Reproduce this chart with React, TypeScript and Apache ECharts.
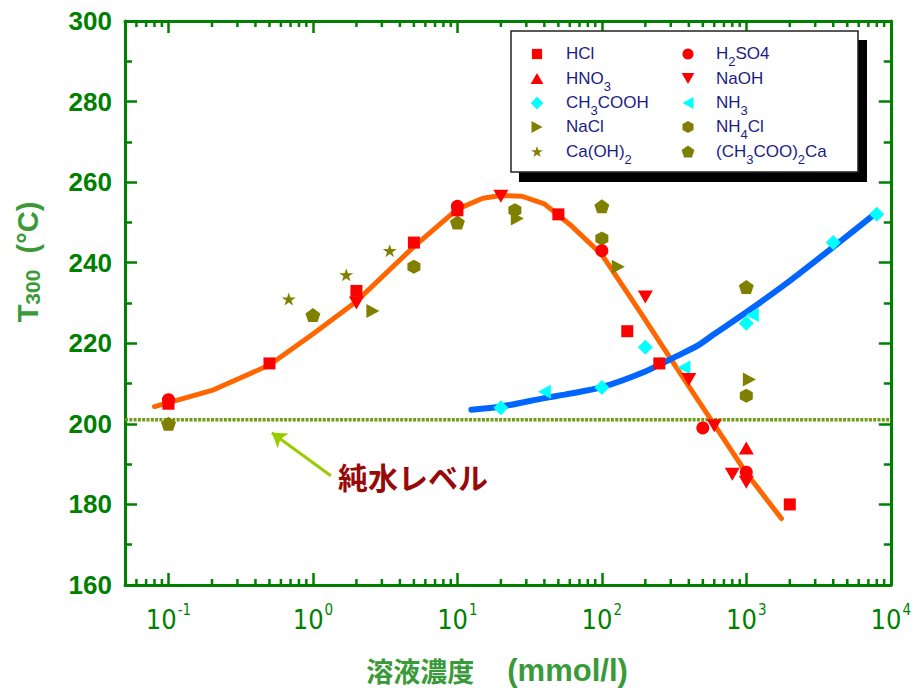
import React, { useEffect, useRef } from "react";
import * as echarts from "echarts";

// ---------- axis ranges ----------
const X_MIN = 0.05;
const X_MAX = 10000;
const Y_MIN = 160;
const Y_MAX = 300;
const Y_INTERVAL = 20;
const PURE_WATER_LEVEL = 201;

// minor log ticks: mantissas x decades
const minorMantissas = [2, 3, 4, 5, 6, 7, 8, 9];
const decadeStarts = [0.01, 0.1, 1, 10, 100, 1000];

// ---------- measured points ----------
const hclX = [0.1, 0.5, 2, 5, 10, 50, 150, 250, 2000];
const hclY = [205, 215, 233, 245, 253, 252, 223, 215, 180];
const h2so4X = [0.1, 10, 100, 500, 1000];
const h2so4Y = [206, 254, 243, 199, 188];
const hno3X = [1000];
const hno3Y = [194];
const naohX = [2, 20, 200, 400, 600, 800, 1000];
const naohY = [230, 256.5, 231.5, 211, 199.5, 187.5, 185.5];
const ch3coohX = [20, 100, 200, 1000, 4000, 8000];
const ch3coohY = [204, 209, 219, 225, 245, 252];
const nh3X = [40, 370, 1100];
const nh3Y = [208, 214, 227];
const naclX = [2.6, 26, 130, 1050];
const naclY = [228, 251, 239, 211];
const nh4clX = [5, 25, 100, 1000];
const nh4clY = [239, 253, 246, 207];
const caoh2X = [0.68, 1.7, 3.4];
const caoh2Y = [231, 237, 243];
const caacX = [0.1, 1, 10, 100, 1000];
const caacY = [200, 227, 250, 254, 234];

// ---------- fitted curves ----------
const strongFitX = [0.08, 0.2, 0.5, 1, 2, 5, 10, 15, 20, 28, 40, 60, 100, 180, 320, 600, 1000, 1750];
const strongFitY = [204.3, 208.3, 214.6, 222.3, 230.4, 244, 253.3, 256, 256.7, 256.5, 254.6, 249.5, 242, 228.3, 214.6, 199.8, 187.8, 176.5];
const weakFitX = [12.5, 20, 40, 60, 100, 200, 330, 460, 600, 1000, 2000, 4000, 8000];
const weakFitY = [203.5, 204.3, 206.4, 207.5, 209.1, 213, 216.8, 219.4, 222.3, 227.7, 235.5, 243.9, 252.5];

// ---------- annotation ----------
const arrowFrom = [1.33, 187.1];
const arrowTo = [0.52, 197.8];
const annotationText = "純水レベル";

// ---------- legend texts ----------
const legendCol1 = ["HCl", "HNO3", "CH3COOH", "NaCl", "Ca(OH)2"];
const legendCol2 = ["H2SO4", "NaOH", "NH3", "NH4Cl", "(CH3COO)2Ca"];
const legendRich: Record<string, string> = {
  HCl: "{n|HCl}",
  H2SO4: "{n|H}{s|2}{n|SO4}",
  HNO3: "{n|HNO}{s|3}",
  NaOH: "{n|NaOH}",
  CH3COOH: "{n|CH}{s|3}{n|COOH}",
  NH3: "{n|NH}{s|3}",
  NaCl: "{n|NaCl}",
  NH4Cl: "{n|NH}{s|4}{n|Cl}",
  "Ca(OH)2": "{n|Ca(OH)}{s|2}",
  "(CH3COO)2Ca": "{n|(CH}{s|3}{n|COO)}{s|2}{n|Ca}",
};

// ---------- styling ----------
const AXIS_GREEN = "#008000";
const NAME_GREEN = "#3a9a3a";
const RED = "#ff0000";
const CYAN = "#00ffff";
const OLIVE = "#808000";
const LEGEND_TEXT = "#1c1c84";

function normPoly(raw: number[][]): number[][] {
  const xs = raw.map((p) => p[0]);
  const ys = raw.map((p) => p[1]);
  const x0 = Math.min(...xs), x1 = Math.max(...xs);
  const y0 = Math.min(...ys), y1 = Math.max(...ys);
  return raw.map((p) => [(p[0] - x0) / (x1 - x0), (p[1] - y0) / (y1 - y0)]);
}
function radial(n: number, rOuter: number, rInner: number | null): number[][] {
  const pts: number[][] = [];
  const count = rInner == null ? n : n * 2;
  for (let i = 0; i < count; i++) {
    const r = rInner == null ? rOuter : i % 2 === 0 ? rOuter : rInner;
    const a = -Math.PI / 2 + (i * 2 * Math.PI) / count;
    pts.push([r * Math.cos(a), r * Math.sin(a)]);
  }
  return normPoly(pts);
}
const SHAPES: Record<string, number[][]> = {
  up: [[0.5, 0], [1, 1], [0, 1]],
  down: [[0, 0], [1, 0], [0.5, 1]],
  left: [[1, 0], [1, 1], [0, 0.5]],
  right: [[0, 0], [1, 0.5], [0, 1]],
  diamond: [[0.5, 0], [1, 0.5], [0.5, 1], [0, 0.5]],
  hexagon: [[0.5, 0], [1, 0.25], [1, 0.75], [0.5, 1], [0, 0.75], [0, 0.25]],
  pentagon: radial(5, 1, null),
  star: radial(5, 1, 0.382),
};
function symbolOf(shape: string): string {
  if (shape === "circle") return "circle";
  if (shape === "square") return "rect";
  const pts = SHAPES[shape];
  return "path://" + pts.map((p, i) => (i ? "L" : "M") + (p[0] * 100).toFixed(2) + "," + (p[1] * 100).toFixed(2)).join("") + "Z";
}

type Species = { name: string; xs: number[]; ys: number[]; color: string; shape: string; size: [number, number] };
const species: Species[] = [
  { name: "Ca(OH)2", xs: caoh2X, ys: caoh2Y, color: OLIVE, shape: "star", size: [14, 13] },
  { name: "(CH3COO)2Ca", xs: caacX, ys: caacY, color: OLIVE, shape: "pentagon", size: [15, 14] },
  { name: "NaCl", xs: naclX, ys: naclY, color: OLIVE, shape: "right", size: [13, 14] },
  { name: "NH4Cl", xs: nh4clX, ys: nh4clY, color: OLIVE, shape: "hexagon", size: [13, 14] },
  { name: "NH3", xs: nh3X, ys: nh3Y, color: CYAN, shape: "left", size: [13, 14] },
  { name: "CH3COOH", xs: ch3coohX, ys: ch3coohY, color: CYAN, shape: "diamond", size: [15, 15] },
  { name: "H2SO4", xs: h2so4X, ys: h2so4Y, color: RED, shape: "circle", size: [13, 13] },
  { name: "HCl", xs: hclX, ys: hclY, color: RED, shape: "square", size: [12, 12] },
  { name: "HNO3", xs: hno3X, ys: hno3Y, color: RED, shape: "up", size: [15, 13] },
  { name: "NaOH", xs: naohX, ys: naohY, color: RED, shape: "down", size: [15, 13] },
];

const zip = (xs: number[], ys: number[]) => xs.map((x, i) => [x, ys[i]]);

function legendSymbol(sp: Species, cx: number, cy: number): any {
  const k = 0.85;
  const w = sp.size[0] * k, h = sp.size[1] * k;
  if (sp.shape === "circle") return { type: "circle", shape: { cx, cy, r: w / 2 }, style: { fill: sp.color } };
  if (sp.shape === "square") return { type: "rect", shape: { x: cx - w / 2, y: cy - h / 2, width: w, height: h }, style: { fill: sp.color } };
  const pts = SHAPES[sp.shape].map((p) => [cx - w / 2 + p[0] * w, cy - h / 2 + p[1] * h]);
  return { type: "polygon", shape: { points: pts }, style: { fill: sp.color } };
}

function buildOption(): any {
  const minorTicks: number[] = [];
  decadeStarts.forEach((d) => minorMantissas.forEach((m) => {
    const v = d * m;
    if (v > X_MIN * 1.0001 && v < X_MAX) minorTicks.push(v);
  }));

  const commonX = {
    type: "log",
    logBase: 10,
    min: X_MIN,
    max: X_MAX,
    splitLine: { show: false },
    axisLine: { onZero: false, lineStyle: { color: AXIS_GREEN, width: 3 } },
    axisTick: { inside: true, length: 12, lineStyle: { color: AXIS_GREEN, width: 2.5 } },
  };
  const commonY = {
    type: "value",
    min: Y_MIN,
    max: Y_MAX,
    interval: Y_INTERVAL,
    splitLine: { show: false },
    axisLine: { onZero: false, lineStyle: { color: AXIS_GREEN, width: 3 } },
    axisTick: { inside: true, length: 12, lineStyle: { color: AXIS_GREEN, width: 2.5 } },
    minorTick: { show: true, splitNumber: 2, length: 7, lineStyle: { color: AXIS_GREEN, width: 2.5 } },
  };

  const legendGraphics: any[] = [
    { type: "rect", shape: { x: 519, y: 40, width: 348, height: 142 }, style: { fill: "#000" }, z: 100 },
    { type: "rect", shape: { x: 511, y: 31, width: 347, height: 141 }, style: { fill: "#fff", stroke: "#222", lineWidth: 1.5 }, z: 101 },
  ];
  const rowY = [54, 78.5, 103, 127, 151.5];
  const cols = [
    { names: legendCol1, sx: 537, tx: 566 },
    { names: legendCol2, sx: 688, tx: 716 },
  ];
  const nStyle = { fontSize: 17, fontFamily: "'Liberation Sans', Arial, sans-serif", fill: LEGEND_TEXT, color: LEGEND_TEXT, verticalAlign: "top" };
  const sStyle = { fontSize: 13, fontFamily: "'Liberation Sans', Arial, sans-serif", fill: LEGEND_TEXT, color: LEGEND_TEXT, verticalAlign: "top", padding: [10, 0, 0, 0] };
  cols.forEach((col) => {
    col.names.forEach((nm, i) => {
      const sp = species.find((s) => s.name === nm)!;
      legendGraphics.push({ ...legendSymbol(sp, col.sx, rowY[i]), z: 102 });
      legendGraphics.push({
        type: "text",
        x: col.tx,
        y: rowY[i] - 9,
        z: 102,
        style: { text: legendRich[nm], rich: { n: nStyle, s: sStyle }, verticalAlign: "top", align: "left" },
      });
    });
  });

  const textGraphics: any[] = [
    {
      type: "text",
      x: 338,
      y: 476,
      style: {
        text: annotationText,
        fontSize: 30,
        fontWeight: "bold",
        fontFamily: "'Noto Sans CJK JP', sans-serif",
        fill: "#960a0a",
        verticalAlign: "middle",
        align: "left",
      },
    },
    {
      type: "text",
      x: 28,
      y: 262,
      rotation: Math.PI / 2,
      style: {
        text: "{t|T}{s|300}{t|  (°C)}",
        rich: {
          t: { fontSize: 29, fontWeight: "bold", fontFamily: "'Liberation Sans', Arial, sans-serif", fill: NAME_GREEN, verticalAlign: "bottom" },
          s: { fontSize: 21, fontWeight: "bold", fontFamily: "'Liberation Sans', Arial, sans-serif", fill: NAME_GREEN, verticalAlign: "bottom" },
        },
        align: "center",
        verticalAlign: "middle",
      },
    },
    {
      type: "text",
      x: 497,
      y: 670,
      style: {
        text: "{c|溶液濃度　 }{l|(mmol/l)}",
        rich: {
          c: { fontSize: 27, fontWeight: "bold", fontFamily: "'Noto Sans CJK JP', sans-serif", fill: NAME_GREEN, verticalAlign: "middle" },
          l: { fontSize: 31, fontWeight: "bold", fontFamily: "'Liberation Sans', Arial, sans-serif", fill: NAME_GREEN, verticalAlign: "middle" },
        },
        align: "center",
        verticalAlign: "middle",
      },
    },
  ];

  const narrow = "'Liberation Sans Narrow', 'DejaVu Sans Condensed', Arial, sans-serif";

  return {
    animation: false,
    backgroundColor: "#ffffff",
    grid: { left: 125, top: 21, width: 770, height: 564 },
    xAxis: [
      {
        ...commonX,
        position: "bottom",
        axisLabel: {
          show: true,
          showMinLabel: false,
          margin: 17,
          verticalAlign: "top",
          formatter: (v: number) => "{b|10}{sup|" + Math.round(Math.log10(v)) + "}",
          rich: {
            b: { fontSize: 27, fontFamily: narrow, color: AXIS_GREEN, verticalAlign: "top", padding: [4, 0, 0, 0] },
            sup: { fontSize: 15, fontFamily: narrow, color: AXIS_GREEN, verticalAlign: "top", padding: [0, 0, 0, 1] },
          },
        },
      },
      { ...commonX, position: "top", axisLabel: { show: false } },
    ],
    yAxis: [
      {
        ...commonY,
        position: "left",
        axisLabel: {
          margin: 13,
          color: AXIS_GREEN,
          fontSize: 26,
          fontWeight: "bold",
          fontFamily: "'Liberation Sans', Arial, sans-serif",
        },
      },
      { ...commonY, position: "right", axisLabel: { show: false } },
    ],
    graphic: [...legendGraphics, ...textGraphics],
    series: [
      {
        type: "custom",
        name: "minorTicks",
        silent: true,
        xAxisIndex: 0,
        yAxisIndex: 0,
        data: minorTicks.map((v) => [v, Y_MIN]),
        encode: { x: 0, y: 1 },
        renderItem: (params: any, api: any) => {
          const x = api.coord([api.value(0), Y_MIN])[0];
          const cs = params.coordSys;
          const yb = cs.y + cs.height;
          const yt = cs.y;
          return {
            type: "group",
            children: [
              { type: "line", shape: { x1: x, y1: yb, x2: x, y2: yb - 6 }, style: { stroke: AXIS_GREEN, lineWidth: 2.5 } },
              { type: "line", shape: { x1: x, y1: yt, x2: x, y2: yt + 6 }, style: { stroke: AXIS_GREEN, lineWidth: 2.5 } },
            ],
          };
        },
        z: 1,
      },
      {
        type: "line",
        name: "pureWater",
        silent: true,
        data: [[X_MIN, PURE_WATER_LEVEL], [X_MAX, PURE_WATER_LEVEL]],
        symbol: "none",
        lineStyle: { color: "#6e9c14", width: 3.5, type: [3, 1.3] },
        z: 2,
        markLine: {
          silent: true,
          symbol: ["none", "arrow"],
          symbolSize: 14,
          label: { show: false },
          lineStyle: { color: "#99cc00", width: 3, type: "solid" },
          data: [[{ coord: arrowFrom }, { coord: arrowTo }]],
        },
      },
      {
        type: "line",
        name: "strongFit",
        silent: true,
        data: zip(strongFitX, strongFitY),
        symbol: "none",
        smooth: false,
        lineStyle: { color: "#ff6600", width: 5, cap: "round", join: "round" },
        z: 3,
      },
      {
        type: "line",
        name: "weakFit",
        silent: true,
        data: zip(weakFitX, weakFitY),
        symbol: "none",
        smooth: 0.25,
        lineStyle: { color: "#0066ff", width: 6, cap: "round", join: "round" },
        z: 3,
      },
      ...species.map((sp) => ({
        type: "scatter",
        name: sp.name,
        data: zip(sp.xs, sp.ys),
        symbol: symbolOf(sp.shape),
        symbolSize: sp.size,
        itemStyle: { color: sp.color, opacity: 1 },
        z: 4,
      })),
    ],
  };
}

export default function App() {
  const ref = useRef<HTMLDivElement>(null);
  useEffect(() => {
    document.body.style.margin = "0";
    const chart = echarts.init(ref.current!, undefined, { renderer: "svg" });
    chart.setOption(buildOption());
    return () => chart.dispose();
  }, []);
  return <div ref={ref} style={{ width: 914, height: 688, background: "#fff" }} />;
}
